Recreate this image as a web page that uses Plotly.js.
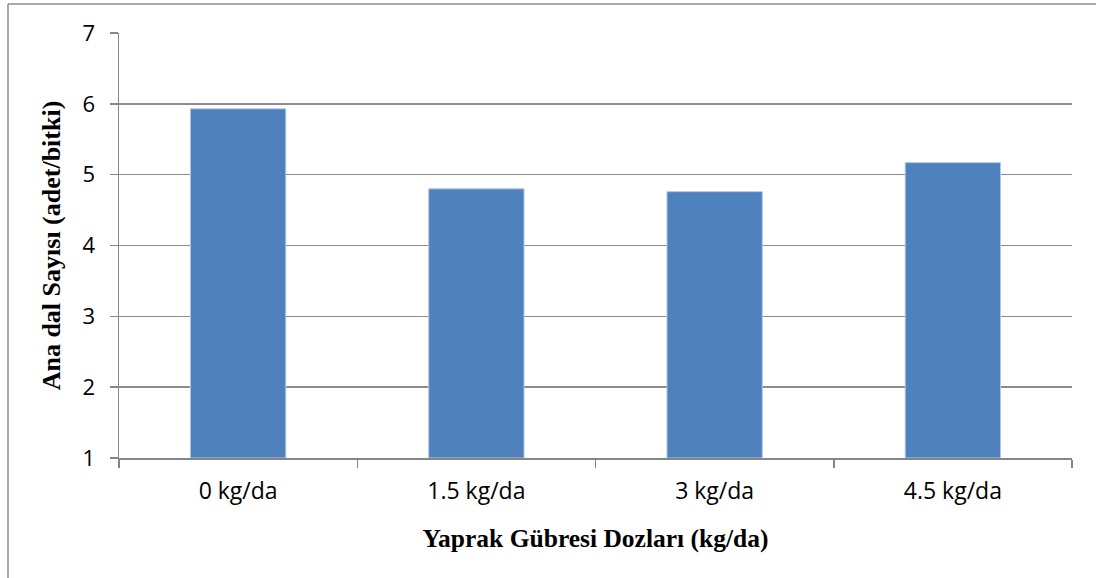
<!DOCTYPE html>
<html>
<head>
<meta charset="utf-8">
<script src="https://cdn.plot.ly/plotly-3.0.1.min.js"></script>
<style>
html,body{margin:0;padding:0;background:#fff;}
#chart{width:1096px;height:578px;}
</style>
</head>
<body>
<div id="chart"></div>
<script>
const categories = ["0 kg/da", "1.5 kg/da", "3 kg/da", "4.5 kg/da"];
const values = [5.93, 4.80, 4.76, 5.17];
const yTickVals = [1, 2, 3, 4, 5, 6, 7];
const xTitle = "Yaprak Gübresi Dozları (kg/da)";
const yTitle = "Ana dal Sayısı (adet/bitki)";
const axisMin = 1;

const trace = {
  type: "bar",
  x: categories,
  y: values.map(v => v - axisMin),
  base: axisMin,
  marker: {color: "#4F81BD", line: {color: "#B3C7E2", width: 1}},
  hoverinfo: "skip"
};

const layout = {
  width: 1096,
  height: 578,
  margin: {l: 119, r: 24, t: 33, b: 120},
  paper_bgcolor: "#fff",
  plot_bgcolor: "#fff",
  showlegend: false,
  bargap: 0.6,
  font: {family: "Open Sans, Lato, sans-serif", color: "#000"},
  xaxis: {
    type: "category",
    tickson: "boundaries",
    ticks: "outside",
    ticklen: 8,
    tickcolor: "#868686",
    tickwidth: 1.5,
    showline: true,
    linecolor: "#868686",
    linewidth: 1.5,
    showgrid: false,
    ticklabelstandoff: 12,
    tickfont: {family: "Open Sans, sans-serif", size: 23, color: "#000"},
    title: {text: xTitle, font: {family: "Liberation Serif, serif", size: 25.5, color: "#000", weight: "bold"}, standoff: 24}
  },
  yaxis: {
    range: [1, 7],
    tickvals: yTickVals,
    ticktext: yTickVals.map(String),
    ticks: "outside",
    ticklen: 8,
    tickcolor: "#868686",
    tickwidth: 1.5,
    showline: true,
    linecolor: "#868686",
    linewidth: 1.5,
    showgrid: true,
    gridcolor: "#8c8c8c",
    gridwidth: 1.5,
    zeroline: false,
    ticklabelstandoff: 10,
    tickfont: {family: "Open Sans, sans-serif", size: 22, color: "#000"},
    title: {text: yTitle, font: {family: "Liberation Serif, serif", size: 26, color: "#000", weight: "bold"}, standoff: 14}
  },
  shapes: [
    {type: "line", xref: "paper", yref: "paper",
     x0: (8 - 119) / 953, x1: (1096 - 119) / 953,
     y0: (578 - 120 - 4) / 425, y1: (578 - 120 - 4) / 425,
     line: {color: "#8c8c8c", width: 1.5}},
    {type: "line", xref: "paper", yref: "paper",
     x0: (8 - 119) / 953, x1: (8 - 119) / 953,
     y0: (578 - 120 - 4) / 425, y1: -120 / 425,
     line: {color: "#8c8c8c", width: 1.5}}
  ]
};

Plotly.newPlot("chart", [trace], layout, {staticPlot: true, displayModeBar: false});
</script>
</body>
</html>
